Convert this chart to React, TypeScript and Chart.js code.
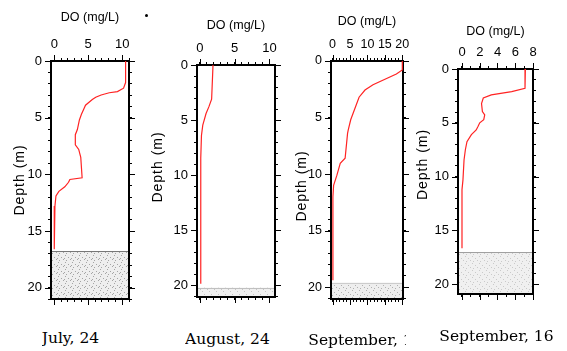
import React, { useEffect, useRef } from "react";
import { Chart, registerables } from "chart.js";

Chart.register(...registerables);

// ---------- data ----------
const depthTicks = [0, 5, 10, 15, 20];

const julyDepth = [0, 1.9, 2.4, 2.7, 2.8, 3.0, 3.2, 3.4, 3.9, 4.3, 4.7, 5.2, 6.05, 6.5, 7.4, 7.8, 8.5, 10.3, 10.45, 10.7, 11.1, 11.5, 11.9, 12.8, 16.6];
const julyDO = [10.5, 10.5, 10.2, 9.3, 8.1, 6.9, 6.1, 5.6, 4.6, 4.3, 4.0, 3.7, 3.4, 3.1, 3.1, 3.6, 3.9, 4.1, 2.3, 2.1, 1.55, 0.68, 0.25, 0.1, 0.0];
const julyDOTicks = [0, 5, 10];
const julySediment = 16.8;

const augDepth = [0, 3.1, 3.8, 4.4, 5.45, 6.4, 8.45, 19.85];
const augDO = [1.9, 1.7, 1.3, 0.9, 0.43, 0.24, 0.14, 0.14];
const augDOTicks = [0, 5, 10];
const augSediment = 20.2;

const sep1Depth = [0, 0.8, 1.15, 2.1, 2.57, 3.2, 5.2, 6.1, 6.4, 8.6, 9.05, 10.1, 11.0, 12.0, 19.4];
const sep1DO = [20, 20, 18.3, 11.6, 9.3, 7.6, 5.2, 4.5, 4.3, 3.6, 2.2, 1.25, 0.3, 0.1, 0.1];
const sep1DOTicks = [0, 5, 10, 15, 20];
const sep1Sediment = 19.6;

const sep16Depth = [0, 1.8, 2.1, 2.4, 2.7, 3.2, 3.96, 4.27, 4.7, 5.0, 5.35, 5.66, 6.1, 6.75, 7.5, 8.45, 10.3, 11.2, 16.65];
const sep16DO = [7.14, 7.1, 5.6, 3.3, 2.4, 2.2, 2.3, 2.56, 2.45, 2.0, 1.8, 1.6, 1.06, 0.56, 0.38, 0.23, 0.11, 0.0, 0.0];
const sep16DOTicks = [0, 2, 4, 6, 8];
const sep16Sediment = 17.0;

const dateLabels = ["July, 24", "August, 24", "September, 1", "September, 16"];
const xTitle = "DO (mg/L)";
const yTitle = "Depth (m)";

// ---------- layout / style ----------
const SANS = "'Liberation Sans Narrow', 'Arial Narrow', 'Liberation Sans', Arial, sans-serif";
const SANS_WIDE = "'Liberation Sans', Arial, sans-serif";
const SERIF = "'DejaVu Serif', serif";
const LEFT_W = 50;
const TOP_H = 65;
const RIGHT_W = 14;
const BOTTOM_H = 14;

type Panel = {
  depth: number[];
  dox: number[];
  doTicks: number[];
  sediment: number;
  xMin: number;
  xMax: number;
  yMax: number;
  box: [number, number, number, number];
  titleGap: number;
  depthDx: number;
  depthDy: number;
  tickSize: number;
  sedBase: string;
  sedDot: string;
  sedLine: string;
  dots: number;
};

const panels: Panel[] = [
  { depth: julyDepth, dox: julyDO, doTicks: julyDOTicks, sediment: julySediment, xMin: -0.48, xMax: 11, yMax: 21,
    box: [51, 129, 61, 299], titleGap: 43, depthDx: -31, depthDy: 0, tickSize: 13,
    sedBase: "#eeeeee", sedDot: "#a5a5a5", sedLine: "#777", dots: 5 },
  { depth: augDepth, dox: augDO, doTicks: augDOTicks, sediment: augSediment, xMin: -0.4, xMax: 10.8, yMax: 21.05,
    box: [197, 275, 65, 297], titleGap: 39, depthDx: -39, depthDy: -14, tickSize: 13,
    sedBase: "#f0f0f0", sedDot: "#c4c4c4", sedLine: "#c0c0c0", dots: 3 },
  { depth: sep1Depth, dox: sep1DO, doTicks: sep1DOTicks, sediment: sep1Sediment, xMin: -0.45, xMax: 20.2, yMax: 21.05,
    box: [331, 403, 61, 299], titleGap: 39, depthDx: -29, depthDy: 6, tickSize: 12.5,
    sedBase: "#eeeeee", sedDot: "#b0b0b0", sedLine: "#cccccc", dots: 4 },
  { depth: sep16Depth, dox: sep16DO, doTicks: sep16DOTicks, sediment: sep16Sediment, xMin: -0.45, xMax: 8.0, yMax: 20.9,
    box: [458, 533, 69, 294], titleGap: 37, depthDx: -35, depthDy: -17, tickSize: 13,
    sedBase: "#f0f0f0", sedDot: "#cacaca", sedLine: "#a0a0a0", dots: 4 },
];

const dateLabelPos = [
  { left: 41.7, top: 331.2, width: 80 },
  { left: 185, top: 331.9, width: 100 },
  { left: 308.3, top: 332.6, width: 98 },
  { left: 439.3, top: 328.6, width: 125 },
];

function intTicks(scale: any) {
  const t: { value: number }[] = [];
  for (let v = Math.ceil(scale.min - 1e-9); v <= Math.floor(scale.max + 1e-9); v++) t.push({ value: v });
  scale.ticks = t;
}

function makePattern(ctx: CanvasRenderingContext2D, base: string, dot: string, n: number) {
  const c = document.createElement("canvas");
  c.width = 7;
  c.height = 7;
  const g = c.getContext("2d")!;
  g.fillStyle = base;
  g.fillRect(0, 0, 7, 7);
  g.fillStyle = dot;
  const spots = [[1, 0], [4, 2], [6, 4], [2, 5], [0, 3], [3, 6], [5, 0]];
  spots.slice(0, n).forEach(([x, y]) => g.fillRect(x, y, 1, 1));
  return ctx.createPattern(c, "repeat")!;
}

function PanelChart({ p }: { p: Panel }) {
  const ref = useRef<HTMLCanvasElement>(null);
  const [L, R, T, B] = p.box;
  const w = R - L + LEFT_W + RIGHT_W;
  const h = B - T + TOP_H + BOTTOM_H;

  useEffect(() => {
    const canvas = ref.current!;
    const tickGrid = { display: true, drawOnChartArea: false, drawTicks: true, tickLength: 3, color: "#000", lineWidth: 1 };
    const border = { display: true, color: "#000", width: 2 };

    const sedimentPlugin = {
      id: "sediment",
      beforeDraw(chart: any) {
        const { ctx, chartArea: a, scales } = chart;
        const top = scales.y.getPixelForValue(p.sediment);
        ctx.save();
        ctx.fillStyle = makePattern(ctx, p.sedBase, p.sedDot, p.dots);
        ctx.fillRect(a.left, top, a.right - a.left, a.bottom - top);
        ctx.strokeStyle = p.sedLine;
        ctx.lineWidth = 1;
        ctx.beginPath();
        ctx.moveTo(a.left, Math.round(top) + 0.5);
        ctx.lineTo(a.right, Math.round(top) + 0.5);
        ctx.stroke();
        ctx.restore();
      },
    };

    const extrasPlugin = {
      id: "extras",
      afterDraw(chart: any) {
        const { ctx, chartArea: a, scales } = chart;
        ctx.save();
        ctx.strokeStyle = "#000";
        ctx.lineWidth = 1;
        ctx.beginPath();
        p.doTicks.forEach((v) => {
          const px = Math.round(scales.x.getPixelForValue(v)) + 0.5;
          ctx.moveTo(px, a.top);
          ctx.lineTo(px, a.top - 6);
          ctx.moveTo(px, a.bottom);
          ctx.lineTo(px, a.bottom + 6);
        });
        depthTicks.forEach((v) => {
          const py = Math.round(scales.y.getPixelForValue(v)) + 0.5;
          ctx.moveTo(a.left, py);
          ctx.lineTo(a.left - 6, py);
          ctx.moveTo(a.right, py);
          ctx.lineTo(a.right + 6, py);
        });
        ctx.stroke();
        ctx.translate(a.left + p.depthDx, (a.top + a.bottom) / 2 + p.depthDy);
        ctx.rotate(-Math.PI / 2);
        ctx.font = `14px ${SANS_WIDE}`;
        try { (ctx as any).letterSpacing = "1px"; } catch (e) {}
        ctx.fillStyle = "#000";
        ctx.textAlign = "center";
        ctx.textBaseline = "middle";
        ctx.fillText(yTitle, 0, 0);
        ctx.restore();
      },
    };

    const tickFont = { family: SANS, size: p.tickSize, lineHeight: 1.2 };

    const chart = new Chart(canvas, {
      type: "line",
      data: {
        datasets: [
          {
            data: p.depth.map((d, i) => ({ x: p.dox[i], y: d })),
            borderColor: "rgb(255,35,35)",
            borderWidth: 1.2,
            pointRadius: 0,
            fill: false,
            tension: 0,
          },
        ],
      },
      options: {
        responsive: false,
        animation: false,
        events: [],
        layout: { padding: 0 },
        plugins: { legend: { display: false }, tooltip: { enabled: false } },
        scales: {
          x: {
            type: "linear", position: "top", min: p.xMin, max: p.xMax,
            afterBuildTicks: intTicks,
            afterFit: (s: any) => { s.height = TOP_H; },
            grid: tickGrid, border,
            ticks: {
              autoSkip: false, maxRotation: 0, padding: 6.2, color: "#000",
              font: tickFont,
              callback: (v: any) => (p.doTicks.includes(Number(v)) ? String(v) : ""),
            },
            title: {
              display: true, text: xTitle, color: "#000",
              font: { family: SANS, size: 12.5, lineHeight: 1 },
              padding: { top: TOP_H - p.titleGap - 6.25, bottom: 0 },
            },
          },
          x2: {
            type: "linear", axis: "x", position: "bottom", min: p.xMin, max: p.xMax,
            afterBuildTicks: intTicks,
            afterFit: (s: any) => { s.height = BOTTOM_H; },
            grid: tickGrid, border,
            ticks: { display: false },
          },
          y: {
            type: "linear", position: "left", min: 0, max: p.yMax, reverse: true,
            afterBuildTicks: intTicks,
            afterFit: (s: any) => { s.width = LEFT_W; },
            grid: tickGrid, border,
            ticks: {
              autoSkip: false, padding: 6, color: "#000",
              font: tickFont,
              callback: (v: any) => (depthTicks.includes(Number(v)) ? String(v) : ""),
            },
          },
          y2: {
            type: "linear", axis: "y", position: "right", min: 0, max: p.yMax, reverse: true,
            afterBuildTicks: intTicks,
            afterFit: (s: any) => { s.width = RIGHT_W; },
            grid: tickGrid, border,
            ticks: { display: false },
          },
        },
      } as any,
      plugins: [sedimentPlugin, extrasPlugin],
    });
    return () => chart.destroy();
  }, []);

  return (
    <canvas
      ref={ref}
      width={w}
      height={h}
      style={{ position: "absolute", left: L - LEFT_W, top: T - TOP_H, width: w, height: h }}
    />
  );
}

export default function App() {
  return (
    <div style={{ position: "absolute", left: 0, top: 0, width: 567, height: 351, background: "#fff", overflow: "hidden" }}>
      {panels.map((p, i) => (
        <PanelChart key={i} p={p} />
      ))}
      {dateLabels.map((t, i) => (
        <div
          key={t}
          style={{
            position: "absolute",
            left: dateLabelPos[i].left,
            top: dateLabelPos[i].top,
            width: dateLabelPos[i].width,
            overflow: "hidden",
            whiteSpace: "nowrap",
            fontFamily: SERIF,
            fontSize: 15.5,
            lineHeight: 1,
            color: "#000",
          }}
        >
          {t}
        </div>
      ))}
      <div style={{ position: "absolute", left: 144.5, top: 14, width: 3, height: 3, borderRadius: "50%", background: "#000" }} />
    </div>
  );
}
